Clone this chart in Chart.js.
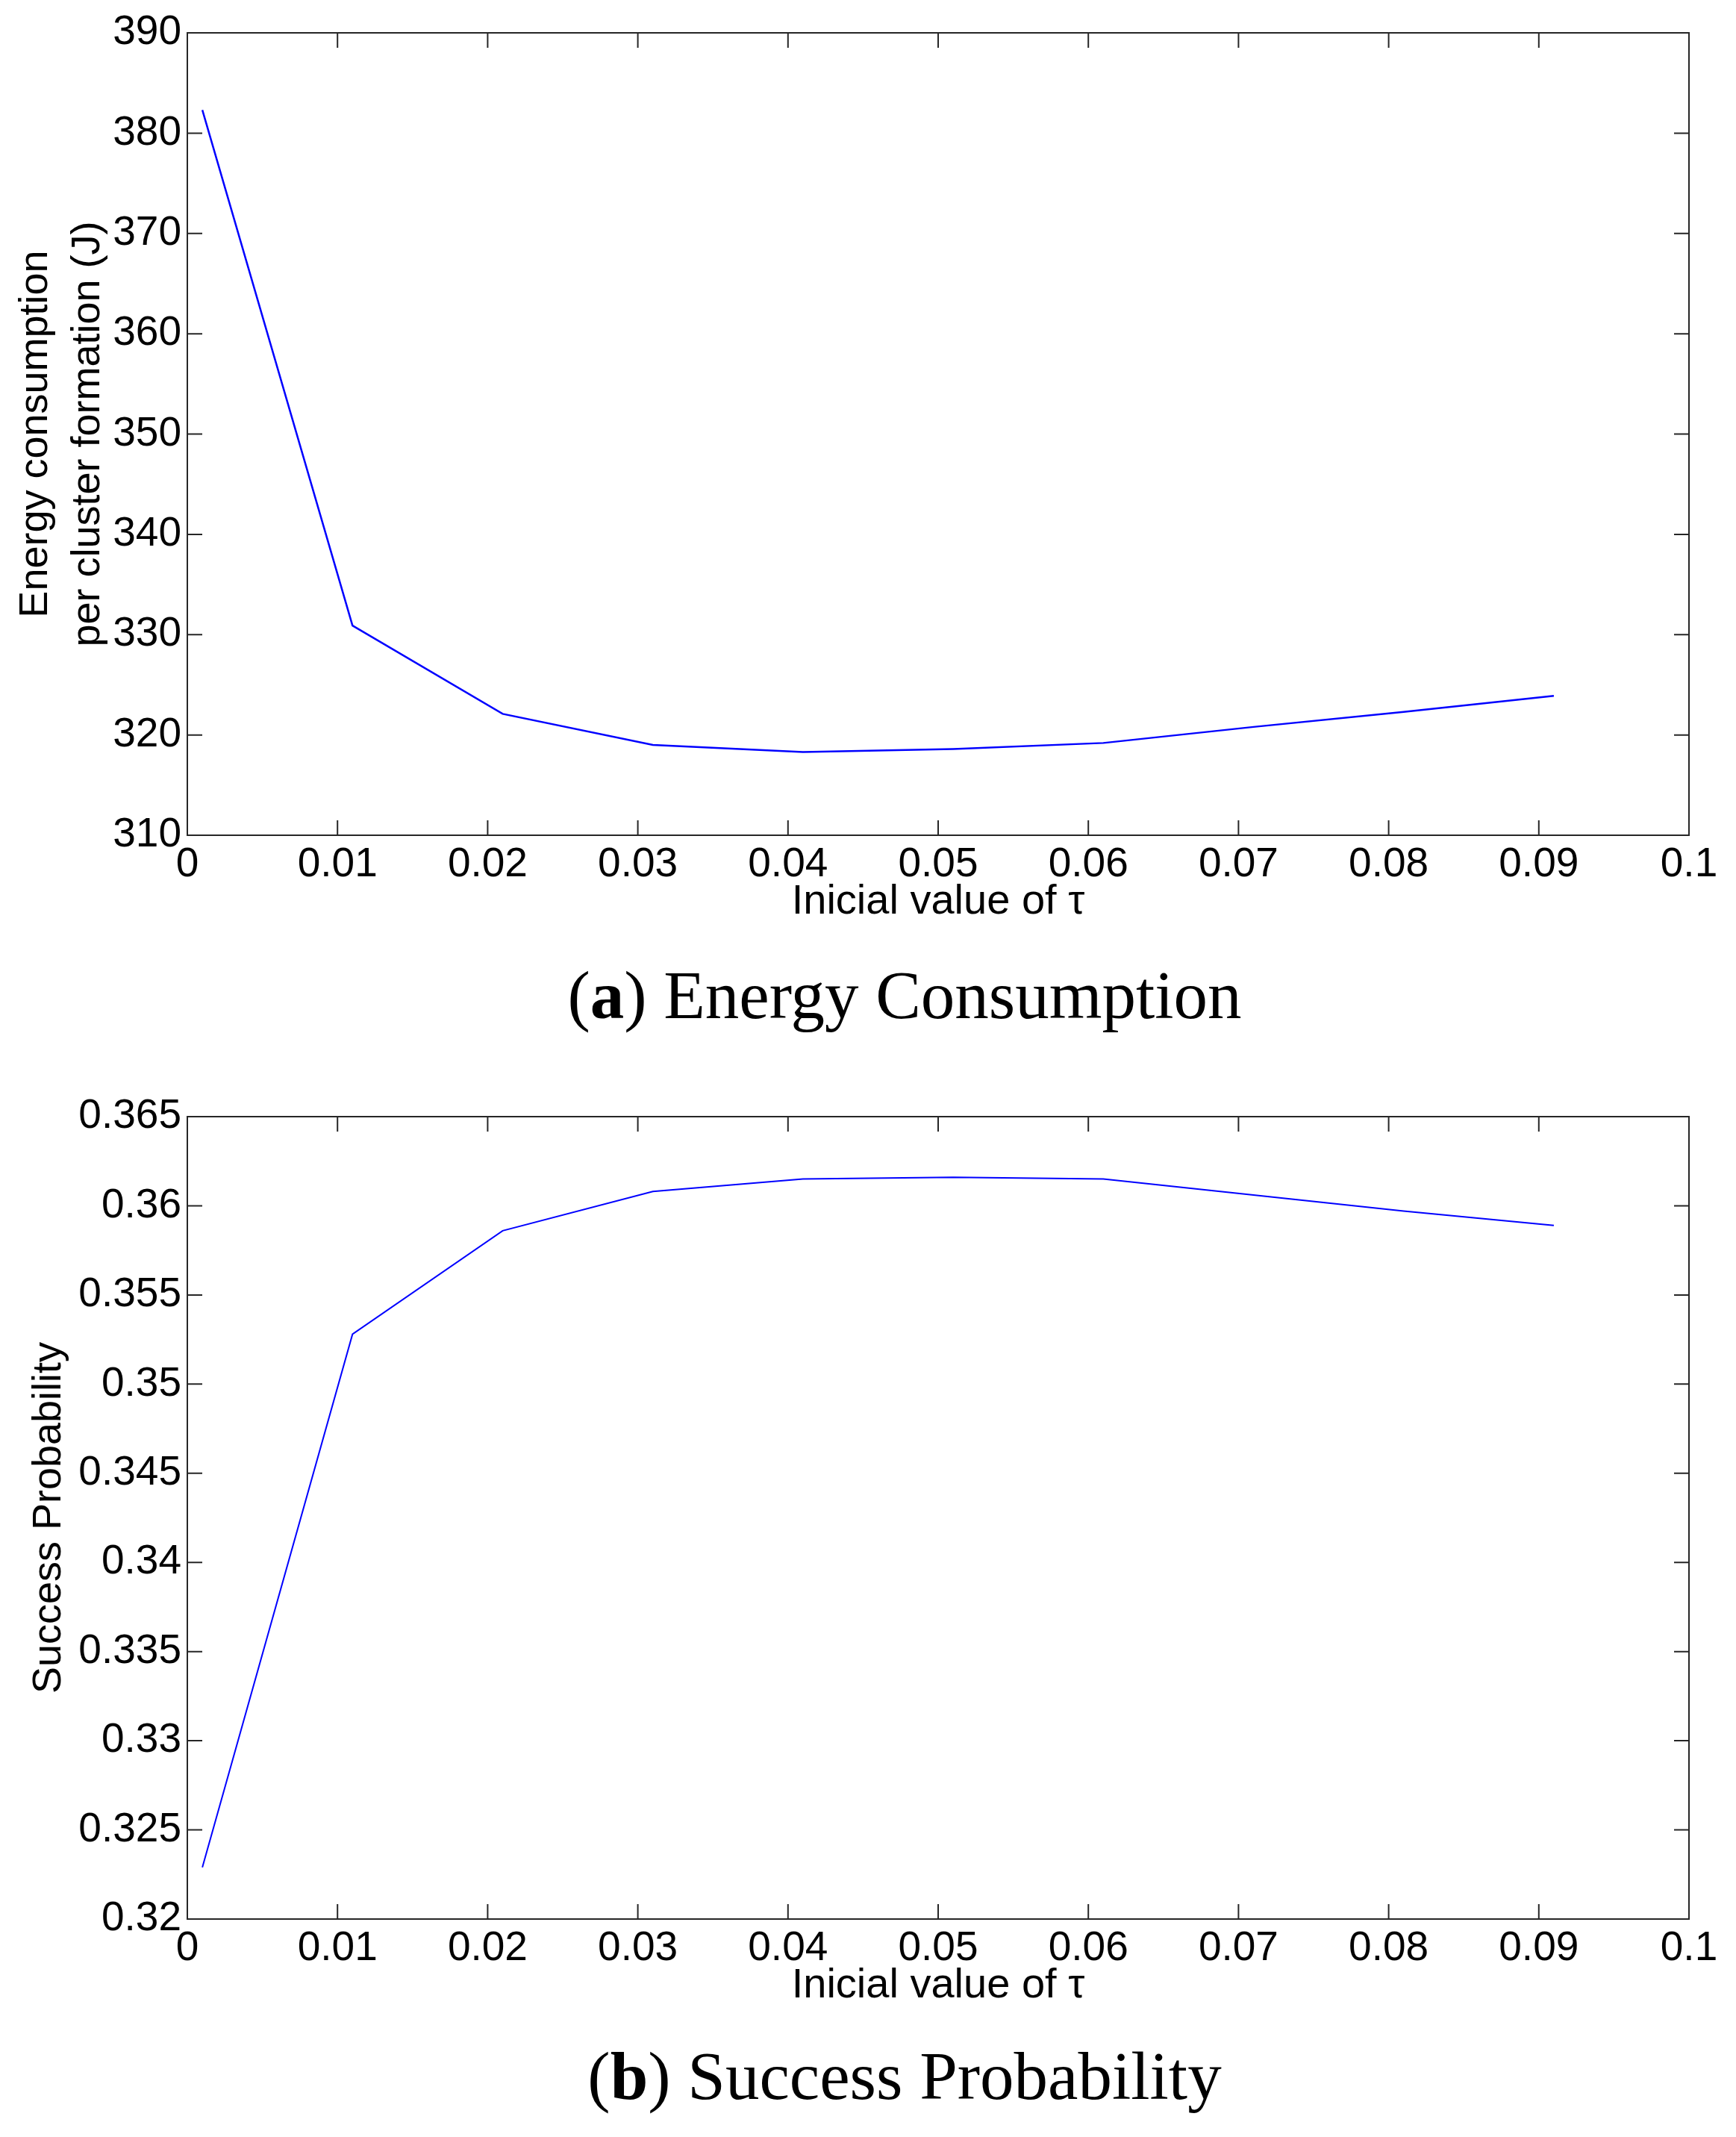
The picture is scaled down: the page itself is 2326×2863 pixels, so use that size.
<!DOCTYPE html>
<html>
<head>
<meta charset="utf-8">
<script src="https://cdn.jsdelivr.net/npm/chart.js@4.4.1/dist/chart.umd.min.js"></script>
<style>
  html, body { margin: 0; padding: 0; background: #fff; }
  body { width: 2326px; height: 2863px; position: relative; overflow: hidden; }
  .quadro { position: absolute; left: 0; width: 2326px; height: 1260px; }
  .legenda {
    position: absolute; left: 1212px; transform: translateX(-50%);
    white-space: nowrap; font-family: 'Liberation Serif', 'DejaVu Serif', serif;
    font-size: 91px; line-height: 1; color: #000;
  }
</style>
</head>
<body>
<div class="quadro" style="top:0px"><canvas id="chartEnergia"></canvas></div>
<div class="legenda" style="top:1288px">(<b>a</b>) Energy Consumption</div>
<div class="quadro" style="top:1452px"><canvas id="chartSucesso"></canvas></div>
<div class="legenda" style="top:2736px">(<b>b</b>) Success Probability</div>

<script>
// valores
const tau = [0.001, 0.011, 0.021, 0.031, 0.041, 0.051, 0.061, 0.071, 0.081, 0.091];
const energia = [382.3, 330.9, 322.1, 319.0, 318.3, 318.6, 319.2, 320.8, 322.3, 323.9];
const sucesso = [0.3229, 0.3528, 0.3586, 0.3608, 0.3615, 0.3616, 0.3615, 0.3606, 0.3597, 0.3589];

const xTicks = [0, 0.01, 0.02, 0.03, 0.04, 0.05, 0.06, 0.07, 0.08, 0.09, 0.1];
const xLabels = ['0', '0.01', '0.02', '0.03', '0.04', '0.05', '0.06', '0.07', '0.08', '0.09', '0.1'];
const yTicksEnergia = [310, 320, 330, 340, 350, 360, 370, 380, 390];
const yLabelsEnergia = ['310', '320', '330', '340', '350', '360', '370', '380', '390'];
const yTicksSucesso = [0.32, 0.325, 0.33, 0.335, 0.34, 0.345, 0.35, 0.355, 0.36, 0.365];
const yLabelsSucesso = ['0.32', '0.325', '0.33', '0.335', '0.34', '0.345', '0.35', '0.355', '0.36', '0.365'];

const SANS = "'Liberation Sans', Arial, sans-serif";
const NARROW = "'Liberation Sans Narrow', 'Arial Narrow', 'Liberation Sans', sans-serif";
const TAM_TICK = 20;

// caixa estilo MATLAB: moldura + ticks para dentro nos 4 lados
const caixaMatlab = {
    id: 'caixaMatlab',
    afterDraw(chart) {
        const { ctx, chartArea: a, scales: { x, y } } = chart;
        ctx.save();
        ctx.strokeStyle = '#262626';
        ctx.lineWidth = 2;
        ctx.strokeRect(a.left, a.top, a.right - a.left, a.bottom - a.top);
        ctx.beginPath();
        x.ticks.forEach(t => {
            const px = x.getPixelForValue(t.value);
            ctx.moveTo(px, a.bottom); ctx.lineTo(px, a.bottom - TAM_TICK);
            ctx.moveTo(px, a.top); ctx.lineTo(px, a.top + TAM_TICK);
        });
        y.ticks.forEach(t => {
            const py = y.getPixelForValue(t.value);
            ctx.moveTo(a.left, py); ctx.lineTo(a.left + TAM_TICK, py);
            ctx.moveTo(a.right, py); ctx.lineTo(a.right - TAM_TICK, py);
        });
        ctx.stroke();
        ctx.restore();
    }
};

function montarGrafico(id, valores, yTicks, yLabels, yTitulo, larguraLinha) {
    return new Chart(document.getElementById(id), {
        type: 'line',
        data: {
            datasets: [{
                data: tau.map((t, i) => ({ x: t, y: valores[i] })),
                borderColor: '#0000ff',
                borderWidth: larguraLinha,
                pointRadius: 0,
                tension: 0,
                fill: false
            }]
        },
        options: {
            responsive: true,
            maintainAspectRatio: false,
            animation: false,
            devicePixelRatio: 1,
            layout: { padding: { left: 0, right: 63, top: 44, bottom: 0 } },
            plugins: { legend: { display: false }, tooltip: { enabled: false } },
            scales: {
                x: {
                    type: 'linear',
                    min: 0, max: 0.1,
                    afterBuildTicks: s => { s.ticks = xTicks.map(v => ({ value: v })); },
                    afterFit: s => { s.height = 141; },
                    grid: { display: false, drawTicks: false },
                    border: { display: false },
                    ticks: {
                        autoSkip: false, maxRotation: 0, minRotation: 0,
                        padding: 7, color: '#000',
                        font: { family: SANS, size: 55 },
                        callback: (v, i) => xLabels[i]
                    },
                    title: {
                        display: true, text: 'Inicial value of τ', color: '#000',
                        font: { family: NARROW, size: 56, lineHeight: 1.2 },
                        padding: { top: 0, bottom: 18 }
                    }
                },
                y: {
                    min: yTicks[0], max: yTicks[yTicks.length - 1],
                    afterBuildTicks: s => { s.ticks = yTicks.map(v => ({ value: v })); },
                    afterFit: s => { s.width = 251; },
                    grid: { display: false, drawTicks: false },
                    border: { display: false },
                    ticks: {
                        autoSkip: false, padding: 8, color: '#000',
                        font: { family: SANS, size: 55 },
                        callback: (v, i) => yLabels[i]
                    },
                    title: yTitulo
                }
            }
        },
        plugins: [caixaMatlab]
    });
}

document.addEventListener('DOMContentLoaded', () => {
    // (a) energia por formação de cluster
    montarGrafico('chartEnergia', energia, yTicksEnergia, yLabelsEnergia, {
        display: true,
        text: ['Energy consumption', 'per cluster formation (J)'],
        color: '#000',
        font: { family: SANS, size: 54, lineHeight: 1.3 },
        padding: { top: 13, bottom: 0 }
    }, 2.5);

    // (b) probabilidade de sucesso
    montarGrafico('chartSucesso', sucesso, yTicksSucesso, yLabelsSucesso, {
        display: true,
        text: 'Success Probability',
        color: '#000',
        font: { family: NARROW, size: 54, lineHeight: 1.2 },
        padding: { top: 34, bottom: 0 }
    }, 2);
});
</script>
</body>
</html>
